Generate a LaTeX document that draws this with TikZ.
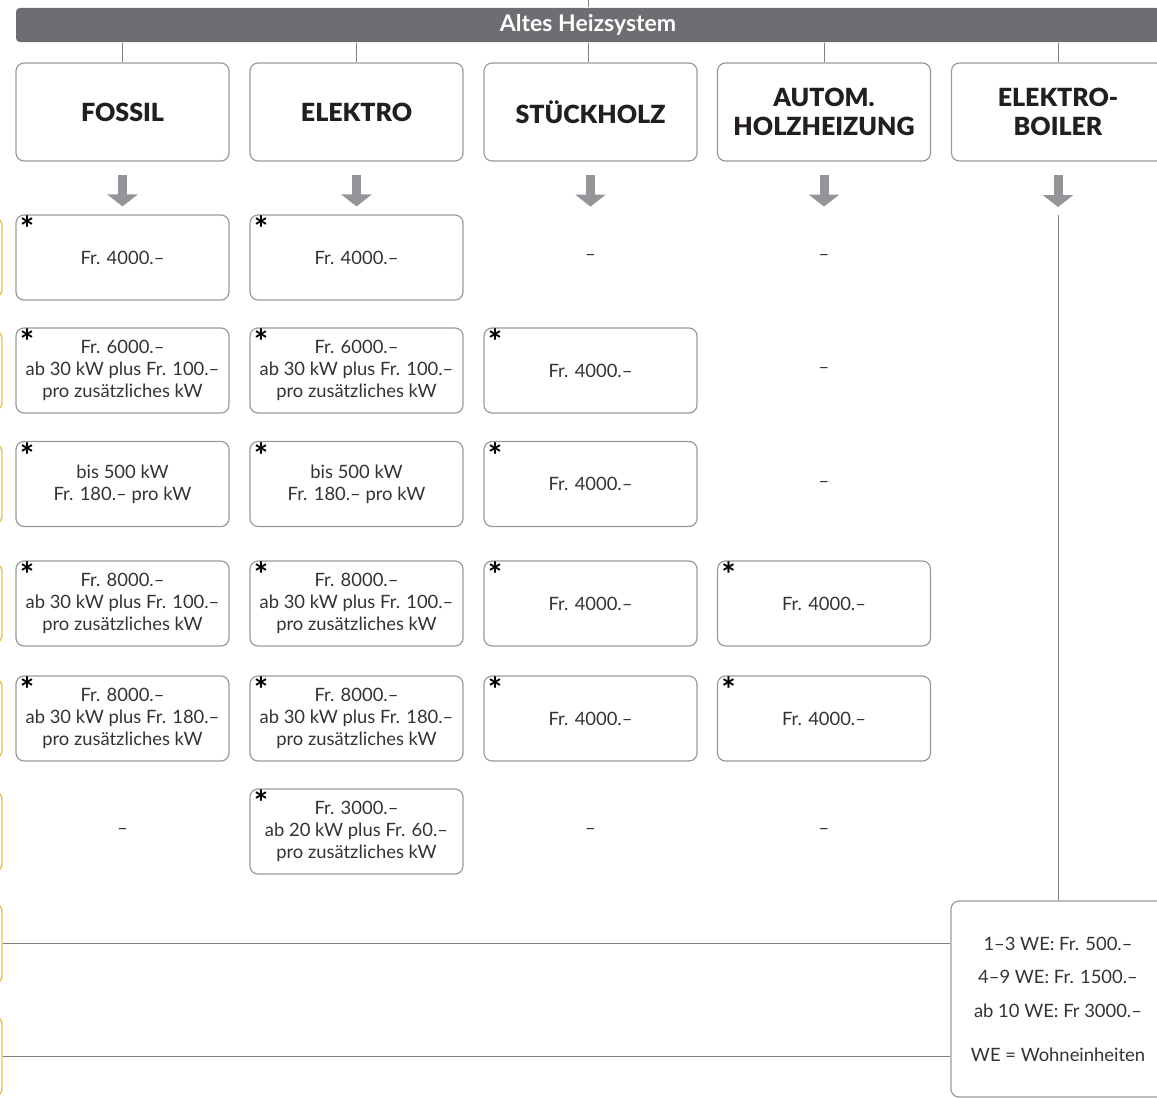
\documentclass[tikz,border=0pt]{standalone}
\usepackage{fontspec}
\setmainfont{Lato}
\newfontfamily\headfont{Lato Black}
\usetikzlibrary{arrows.meta}
\definecolor{barGray}{HTML}{6D6E71}
\definecolor{arrowGray}{HTML}{939598}
\definecolor{frameGray}{HTML}{9A9A9A}
\definecolor{lineGray}{HTML}{808080}
\definecolor{textGray}{HTML}{333333}
\definecolor{headBlack}{HTML}{231F20}
\definecolor{sideYellow}{HTML}{E6C34A}
\begin{document}
\begin{tikzpicture}[x=0.5pt, y=-0.5pt]
      \tikzset{cell/.style={minimum width=106.5pt, minimum height=42.5pt, inner sep=0pt, align=center, text=textGray, font=\fontsize{9.2}{11}\selectfont},
               boxed/.style={cell, draw=frameGray, line width=0.6pt, rounded corners=4pt, label={[anchor=north west, inner sep=0pt, xshift=2pt, yshift=-0.5pt, text=black, font=\fontsize{17}{17}\selectfont\bfseries]north west:*}},
               head/.style={draw=frameGray, line width=0.6pt, rounded corners=4pt, minimum width=106.5pt, minimum height=49pt, align=center, text=headBlack, font=\fontsize{12.5}{14.5}\headfont},
               side/.style={draw=sideYellow, line width=0.7pt, rounded corners=4pt, minimum width=31pt, minimum height=40pt},
               bigarrow/.style={arrowGray, line width=4.5pt, -{Triangle[width=15pt, length=6pt]}, shorten <=6.5pt, shorten >=4pt},
               link/.style={lineGray, line width=0.5pt}}
      \useasboundingbox (0,0) rectangle (1157,1098);
%% Title bar and system headers
      	\coordinate (top) at (588,0);
      	\node[fill=barGray, rounded corners=2pt, minimum width=572pt, minimum height=17pt, text=white, font=\fontsize{11.5}{11.5}\selectfont\bfseries] (bar) at (588,25) {Altes Heizsystem};
      	\node[head] (hF) at (122.5,112) {FOSSIL};
      	\node[head] (hE) at (356.5,112) {ELEKTRO};
      	\node[head] (hS) at (590.5,112) {STÜCKHOLZ};
      	\node[head] (hA) at (824,112) {AUTOM.\\HOLZHEIZUNG};
      	\node[head] (hB) at (1058,112) {ELEKTRO-\\BOILER};
%% Left side boxes (cut off)
      	\node[side] (yl1) at (-29,257.5) {};
      	\node[side] (yl2) at (-29,370.5) {};
      	\node[side] (yl3) at (-29,484) {};
      	\node[side] (yl4) at (-29,603.5) {};
      	\node[side] (yl5) at (-29,718.5) {};
      	\node[side] (yl6) at (-29,831.5) {};
      	\node[side] (yl7) at (-29,943.5) {};
      	\node[side] (yl8) at (-29,1056.5) {};
%% Fossil column
      	\node[boxed] (cF1) at (122.5,257.5) {Fr. 4000.–};
      	\node[boxed] (cF2) at (122.5,370.5) {Fr. 6000.–\\ab 30 kW plus Fr. 100.–\\pro zusätzliches kW};
      	\node[boxed] (cF3) at (122.5,484) {bis 500 kW\\Fr. 180.– pro kW};
      	\node[boxed] (cF4) at (122.5,603.5) {Fr. 8000.–\\ab 30 kW plus Fr. 100.–\\pro zusätzliches kW};
      	\node[boxed] (cF5) at (122.5,718.5) {Fr. 8000.–\\ab 30 kW plus Fr. 180.–\\pro zusätzliches kW};
      	\node[cell] (cF6) at (122.5,831.5) {–};
%% Elektro column
      	\node[boxed] (cE1) at (356.5,257.5) {Fr. 4000.–};
      	\node[boxed] (cE2) at (356.5,370.5) {Fr. 6000.–\\ab 30 kW plus Fr. 100.–\\pro zusätzliches kW};
      	\node[boxed] (cE3) at (356.5,484) {bis 500 kW\\Fr. 180.– pro kW};
      	\node[boxed] (cE4) at (356.5,603.5) {Fr. 8000.–\\ab 30 kW plus Fr. 100.–\\pro zusätzliches kW};
      	\node[boxed] (cE5) at (356.5,718.5) {Fr. 8000.–\\ab 30 kW plus Fr. 180.–\\pro zusätzliches kW};
      	\node[boxed] (cE6) at (356.5,831.5) {Fr. 3000.–\\ab 20 kW plus Fr. 60.–\\pro zusätzliches kW};
%% Stueckholz column
      	\node[cell] (cS1) at (590.5,257.5) {–};
      	\node[boxed] (cS2) at (590.5,370.5) {Fr. 4000.–};
      	\node[boxed] (cS3) at (590.5,484) {Fr. 4000.–};
      	\node[boxed] (cS4) at (590.5,603.5) {Fr. 4000.–};
      	\node[boxed] (cS5) at (590.5,718.5) {Fr. 4000.–};
      	\node[cell] (cS6) at (590.5,831.5) {–};
%% Autom. Holzheizung column
      	\node[cell] (cA1) at (824,257.5) {–};
      	\node[cell] (cA2) at (824,370.5) {–};
      	\node[cell] (cA3) at (824,484) {–};
      	\node[boxed] (cA4) at (824,603.5) {Fr. 4000.–};
      	\node[boxed] (cA5) at (824,718.5) {Fr. 4000.–};
      	\node[cell] (cA6) at (824,831.5) {–};
%% Elektroboiler
      	\coordinate (b1) at (1058,215);
      	\node[draw=frameGray, line width=0.6pt, rounded corners=4pt, minimum width=107pt, minimum height=98pt, align=center, text=textGray, font=\fontsize{9.2}{16.75}\selectfont] (boil) at (1058,999) {1–3 WE: Fr. 500.–\\4–9 WE: Fr. 1500.–\\ab 10 WE: Fr 3000.–\\[5.25pt]WE = Wohneinheiten};
%Edges
		\draw[link] (top) -- (bar);
		\draw[link] (bar.south -| hF.north) -- (hF.north);
		\draw[link] (bar.south -| hE.north) -- (hE.north);
		\draw[link] (bar.south) -- (bar.south |- hS.north);
		\draw[link] (bar.south -| hA.north) -- (hA.north);
		\draw[link] (bar.south -| hB.north) -- (hB.north);
		\draw[bigarrow] (hF) -- (cF1);
		\draw[bigarrow] (hE) -- (cE1);
		\draw[bigarrow] (hS) -- (cS1.north);
		\draw[bigarrow] (hA) -- (cA1.north);
		\draw[bigarrow] (hB) -- (b1);
		\draw[link] (b1) -- (boil.north);
		\draw[link] (yl7.east) -- (yl7.east -| boil.west);
		\draw[link] (yl8.east) -- (yl8.east -| boil.west);
	\end{tikzpicture}
\end{document}
